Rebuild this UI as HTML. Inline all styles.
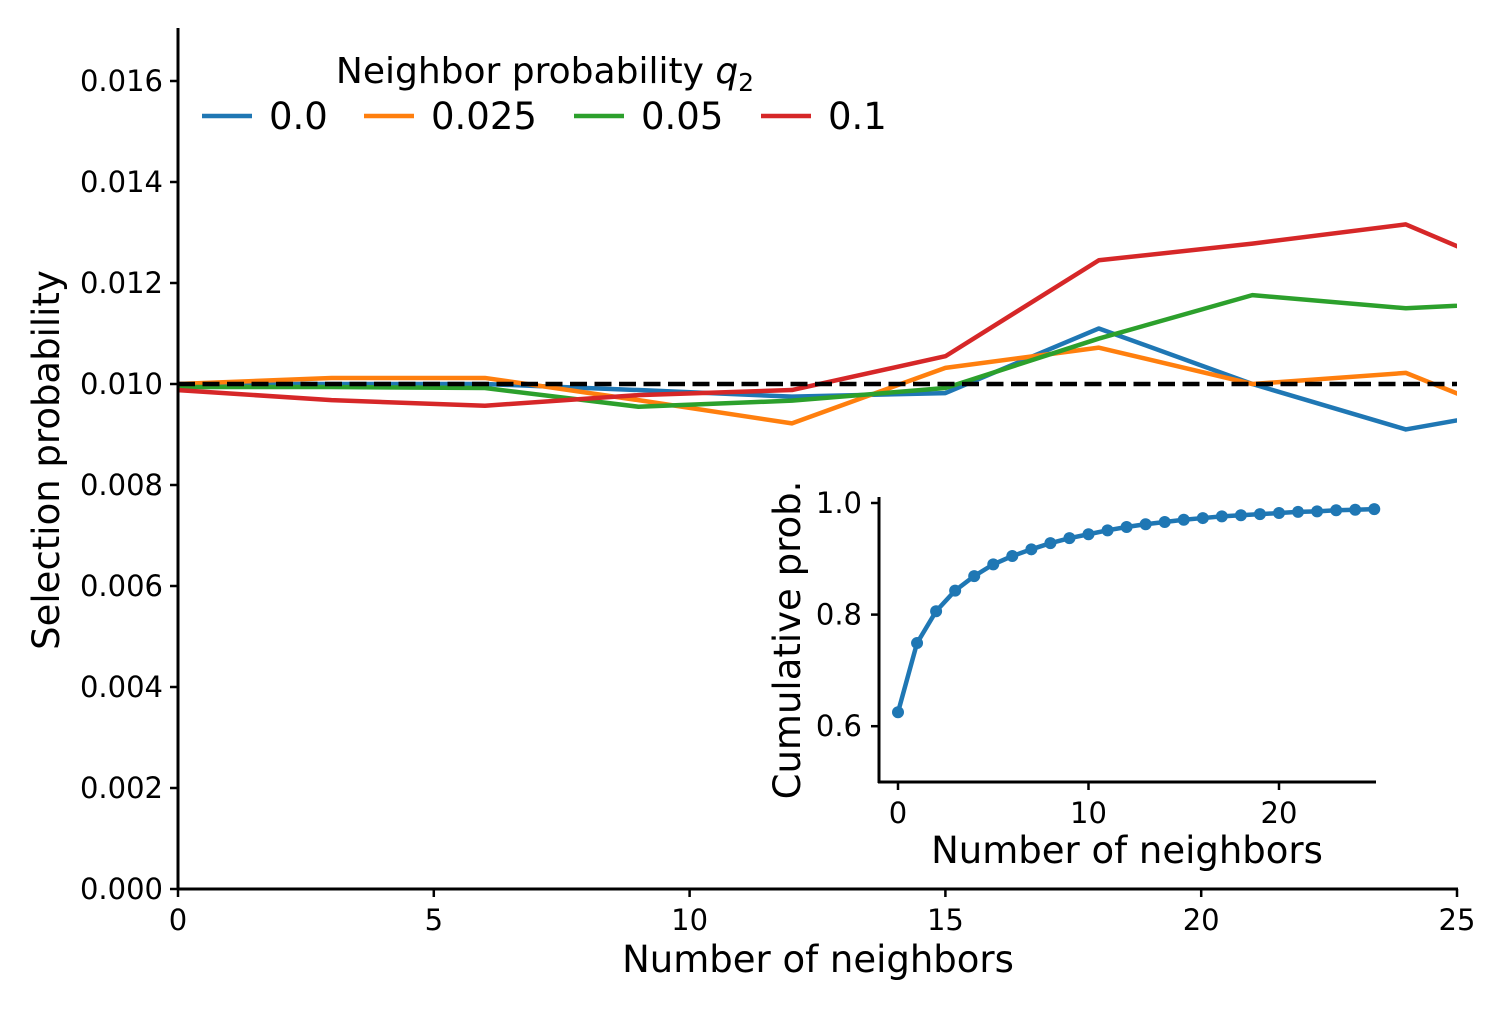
<!DOCTYPE html>
<html><head><meta charset="utf-8"><style>
html,body{margin:0;padding:0;background:#fff;}
svg{display:block;font-family:"DejaVu Sans","Liberation Sans",sans-serif;}
</style></head><body>
<svg id="chart" width="1507" height="1010" viewBox="0 0 1507 1010"></svg>
<script>
const mainX = [0,3,6,9,12,15,18,21,24,27];
const seriesLabels = ["0.0","0.025","0.05","0.1"];
const seriesColors = ["#1f77b4","#ff7f0e","#2ca02c","#d62728"];
const q0 = [0.0100,0.0100,0.0100,0.00988,0.00975,0.00982,0.0111,0.0100,0.0091,0.00964];
const q025 = [0.0100,0.01012,0.01012,0.00968,0.00922,0.01032,0.01072,0.0100,0.01022,0.0090];
const q05 = [0.00994,0.00994,0.00992,0.00955,0.00967,0.00992,0.0109,0.01176,0.0115,0.01165];
const q1 = [0.00988,0.00968,0.00957,0.00978,0.00988,0.01055,0.01245,0.01278,0.01316,0.01187];
const baseline = 0.010;
const mainXTicks = [0,5,10,15,20,25];
const mainYTicks = [0,0.002,0.004,0.006,0.008,0.010,0.012,0.014,0.016];
const insetX = [0,1,2,3,4,5,6,7,8,9,10,11,12,13,14,15,16,17,18,19,20,21,22,23,24,25];
const insetY = [0.625,0.749,0.806,0.843,0.869,0.890,0.905,0.917,0.928,0.937,0.944,0.951,0.957,0.962,0.966,0.970,0.973,0.976,0.978,0.980,0.982,0.984,0.985,0.987,0.988,0.989];
const insetXTicks = [0,10,20];
const insetYTicks = [0.6,0.8,1.0];

const NS="http://www.w3.org/2000/svg";
const svg=document.getElementById('chart');
function mk(tag,attrs,parent){const e=document.createElementNS(NS,tag);for(const k in attrs)e.setAttribute(k,attrs[k]);(parent||svg).appendChild(e);return e;}
const mx=v=>178+v*(1457-178)/25;
const my=v=>889-v*(889-81)/0.016;
const ix=v=>898+v*19.05;
const iy=v=>782-(v-0.5)*(782-503)/0.5;
const TF=29, LF=37;

const defs=mk('defs',{});
const cp=mk('clipPath',{id:'mclip'},defs);
mk('rect',{x:178,y:20,width:1279,height:869},cp);

const allSeries=[q0,q025,q05,q1];
const mg=mk('g',{'clip-path':'url(#mclip)'});
allSeries.forEach((s,i)=>{
  const p=mk('polyline',{points:s.map((v,j)=>mx(mainX[j])+','+my(v)).join(' '),fill:'none',stroke:seriesColors[i],'stroke-width':4.5,'stroke-linejoin':'round'},mg);
  
  
});
const bl=mk('line',{x1:178,x2:1457,y1:my(baseline),y2:my(baseline),stroke:'#000','stroke-width':4.5,'stroke-dasharray':'17 7.5'});



mk('line',{x1:178,y1:28,x2:178,y2:890,stroke:'#000','stroke-width':3,});
mk('line',{x1:177,y1:889,x2:1458,y2:889,stroke:'#000','stroke-width':3,});
mainYTicks.forEach(t=>{
  const y=my(t);
  mk('line',{x1:170,x2:178,y1:y,y2:y,stroke:'#000','stroke-width':2.5});
  const tx=mk('text',{x:163,y:y+10,'text-anchor':'end','font-size':TF});
  tx.textContent=t.toFixed(3);
  
  
});
mainXTicks.forEach(t=>{
  const x=mx(t);
  mk('line',{x1:x,x2:x,y1:889,y2:897,stroke:'#000','stroke-width':2.5});
  const tx=mk('text',{x:x,y:930,'text-anchor':'middle','font-size':TF});
  tx.textContent=t;
  
  
});
const xl=mk('text',{x:818,y:972,'text-anchor':'middle','font-size':LF,});xl.textContent='Number of neighbors';
const yl=mk('text',{x:59,y:460,'text-anchor':'middle','font-size':LF,transform:'rotate(-90 59 460)',});yl.textContent='Selection probability';

const lt=mk('text',{x:545,y:83,'text-anchor':'middle','font-size':36,});
lt.innerHTML='Neighbor probability <tspan font-style="italic">q</tspan><tspan font-size="25" dy="8">2</tspan>';
const legX=[202,364,574,761];
seriesLabels.forEach((l,i)=>{
  const g=mk('g',{});
  
  
  mk('line',{x1:legX[i],x2:legX[i]+50,y1:116,y2:116,stroke:seriesColors[i],'stroke-width':4.5},g);
  const t=mk('text',{x:legX[i]+67,y:129,'font-size':LF},g);t.textContent=l;
});

const ig=mk('g',{});
const ip=mk('polyline',{points:insetY.map((v,j)=>ix(insetX[j])+','+iy(v)).join(' '),fill:'none',stroke:'#1f77b4','stroke-width':4.5},ig);


insetY.forEach((v,j)=>{
  const c=mk('circle',{cx:ix(insetX[j]),cy:iy(v),r:6,fill:'#1f77b4'},ig);
  
  
});
mk('line',{x1:879,y1:497,x2:879,y2:783,stroke:'#000','stroke-width':3},ig);
mk('line',{x1:878,y1:782,x2:1376,y2:782,stroke:'#000','stroke-width':3},ig);
insetYTicks.forEach(t=>{
  const y=iy(t);
  mk('line',{x1:871,x2:879,y1:y,y2:y,stroke:'#000','stroke-width':2.5},ig);
  const tx=mk('text',{x:862,y:y+10,'text-anchor':'end','font-size':TF},ig);tx.textContent=t.toFixed(1);
  
  
});
insetXTicks.forEach(t=>{
  const x=ix(t);
  mk('line',{x1:x,x2:x,y1:782,y2:790,stroke:'#000','stroke-width':2.5},ig);
  const tx=mk('text',{x:x,y:823,'text-anchor':'middle','font-size':TF},ig);tx.textContent=t;
  
  
});
const ixl=mk('text',{x:1127,y:863,'text-anchor':'middle','font-size':LF,},ig);ixl.textContent='Number of neighbors';
const iyl=mk('text',{x:800,y:640,'text-anchor':'middle','font-size':LF,transform:'rotate(-90 800 640)',},ig);iyl.textContent='Cumulative prob.';
</script>
</body></html>
